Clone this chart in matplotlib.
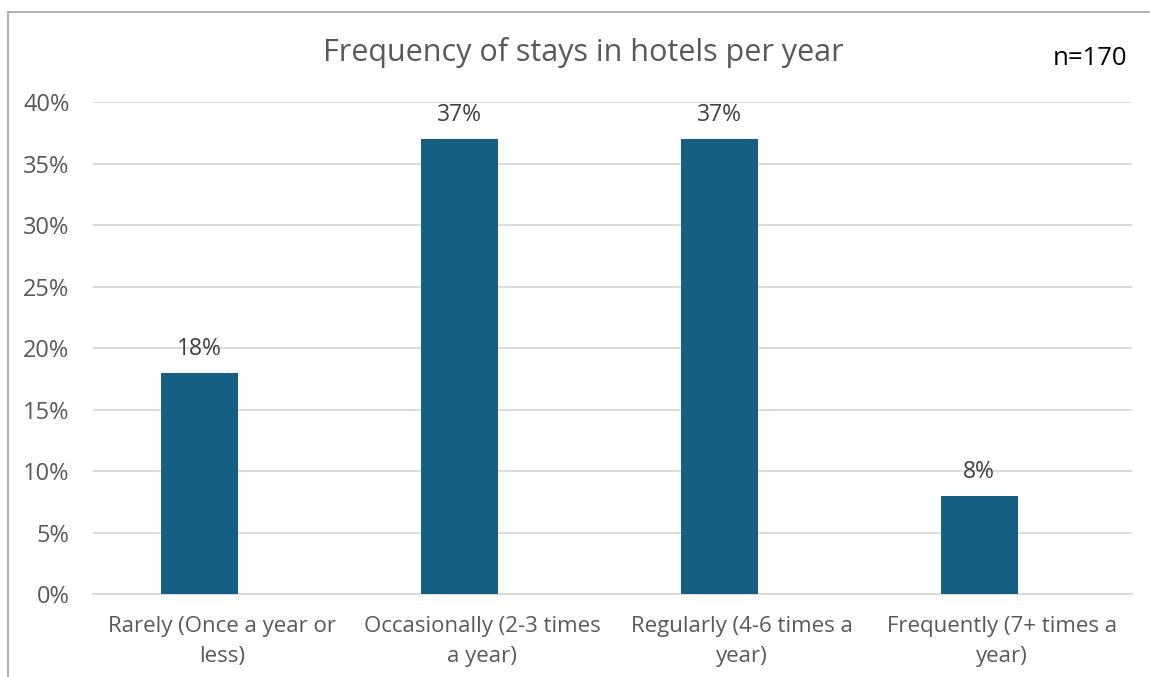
import matplotlib.pyplot as plt
from matplotlib.lines import Line2D
from matplotlib.ticker import PercentFormatter

categories = ["Rarely (Once a year or\nless)", "Occasionally (2-3 times\na year)",
              "Regularly (4-6 times a\nyear)", "Frequently (7+ times a\nyear)"]
shares = [18, 37, 37, 8]
y_ticks = [0, 5, 10, 15, 20, 25, 30, 35, 40]

plt.rcParams['font.family'] = ['Open Sans', 'DejaVu Sans']

fig = plt.figure(figsize=(11.5, 6.77), dpi=100)
ax = fig.add_axes([0.0809, 0.1226, 0.9034, 0.7267])

x = list(range(len(categories)))
bars = ax.bar(x, shares, width=0.296, color="#156082", zorder=3)
for rect, v in zip(bars, shares):
    ax.annotate(f"{v}%", (rect.get_x() + rect.get_width() / 2, v),
                xytext=(0, 17), textcoords="offset points",
                ha="center", va="center", fontsize=16.5, color="#404040")

ax.set_xlim(-0.408, 3.588)
ax.set_ylim(0, 40)
ax.set_yticks(y_ticks)
ax.yaxis.set_major_formatter(PercentFormatter(decimals=0))
# category labels sit slightly right of the bars
ax.set_xticks([i + 0.088 for i in x])
ax.set_xticklabels(categories, fontsize=16, color="#595959", linespacing=1.55)
ax.tick_params(axis="y", labelsize=17, labelcolor="#595959", length=0, pad=17)
ax.tick_params(axis="x", length=0, pad=16)
ax.grid(axis="y", color="#d9d9d9", linewidth=1.3, zorder=0)
ax.xaxis.grid(False)
for side in ["top", "right", "left"]:
    ax.spines[side].set_visible(False)
ax.spines["bottom"].set_color("#d9d9d9")
ax.spines["bottom"].set_linewidth(1.3)

fig.text(0.507, 0.923, "Frequency of stays in hotels per year", ha="center", va="center",
         fontsize=22, color="#595959")
fig.text(0.98, 0.913, "n=170", ha="right", va="center", fontsize=18.5, color="black")

# chart frame (top and left edges)
fig.add_artist(Line2D([0.007, 1.0], [0.982, 0.982], color="#a6a6a6", linewidth=1.2,
                      transform=fig.transFigure))
fig.add_artist(Line2D([0.007, 0.007], [0.0, 0.982], color="#a6a6a6", linewidth=1.2,
                      transform=fig.transFigure))

fig.savefig("out.png", dpi=100)
